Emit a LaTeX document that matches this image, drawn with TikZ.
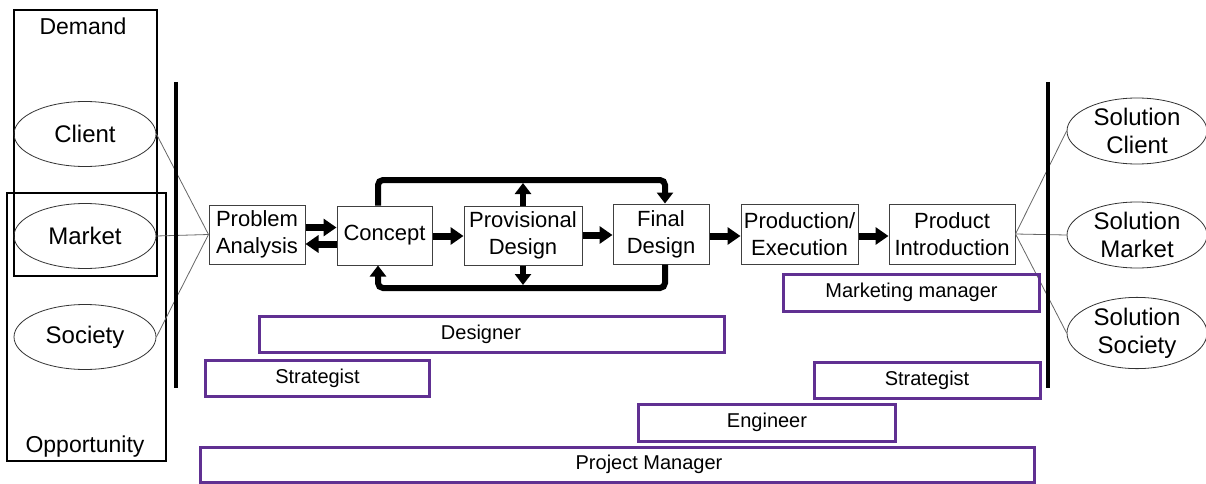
\documentclass[tikz,border=0pt]{standalone}
\usepackage{fontspec}
\setmainfont{Liberation Sans}
\usetikzlibrary{arrows.meta,shapes.geometric}
\definecolor{rolepurple}{RGB}{96,48,146}
\begin{document}
\begin{tikzpicture}[x=1pt,y=-1pt,
  proc/.style={draw=black!75, line width=1pt, inner sep=0pt, align=center,
    font=\fontsize{22}{27}\selectfont},
  role/.style={draw=rolepurple, line width=3pt, inner sep=0pt,
    font=\fontsize{20}{24}\selectfont},
  rolelabel/.style={inner sep=0pt, font=\fontsize{20}{24}\selectfont},
  src/.style={ellipse, draw=black!80, line width=0.8pt, inner sep=0pt,
    minimum width=142pt, minimum height=65pt, align=center,
    font=\fontsize{24}{28}\selectfont},
  group/.style={draw, line width=2pt, inner sep=0pt},
  grouplabel/.style={inner sep=0pt, font=\fontsize{23}{27}\selectfont},
  link/.style={draw=black!60, line width=0.8pt},
  bar/.style={line width=3.5pt},
  flow/.style={line width=7pt, -{Triangle[length=13pt,width=17pt]}},
  loopline/.style={line width=6pt, rounded corners=5pt,
    -{Triangle[length=11pt,width=16pt]}}]
\useasboundingbox (0,0) rectangle (1206,484);

% demand / opportunity groups
\node[group, minimum width=159pt, minimum height=268pt] (oppbox) at (86.5,327) {};
\node[group, minimum width=143pt, minimum height=266pt] (demandbox) at (85.5,143) {};
\node[grouplabel] (demand) at (83,26) {Demand};
\node[grouplabel] (opp) at (85,447) {Opportunity};

% sources
\node[src] (eC) at (85,134) {Client};
\node[src] (eM) at (85,236) {Market};
\node[src] (eS) at (85,337) {Society};

% solutions
\node[src, minimum width=140pt, minimum height=66pt] (rC) at (1137,131) {Solution\\Client};
\node[src, minimum width=140pt, minimum height=66pt] (rM) at (1137,235) {Solution\\Market};
\node[src, minimum width=140pt, minimum height=66pt] (rS) at (1137,333) {Solution\\Society};

% process steps
\node[proc, minimum width=96pt, minimum height=59pt] (pa) at (257,234.5) {Problem\\Analysis};
\node[proc, minimum width=95pt, minimum height=59pt] (co) at (384.5,235.5) {Concept};
\node[proc, minimum width=118pt, minimum height=59pt] (pd) at (523,235.5) {Provisional\\Design};
\node[proc, minimum width=96pt, minimum height=60pt] (fd) at (661,234) {Final\\Design};
\node[proc, minimum width=117pt, minimum height=60pt] (pe) at (799.5,234) {Production/\\Execution};
\node[proc, minimum width=126pt, minimum height=60pt] (pi) at (952,234) {Product\\Introduction};

% thin links
\draw[link] (eC.east) -- (pa.west);
\draw[link] (eM.east) -- (pa.west);
\draw[link] (eS.east) -- (pa.west);
\draw[link] (pi.east) -- (rC.west);
\draw[link] (pi.east) -- (rM.west);
\draw[link] (pi.east) -- (rS.west);

% boundary bars
\coordinate (lbt) at (176,82);
\coordinate (lbb) at (176,388);
\coordinate (rbt) at (1048,82);
\coordinate (rbb) at (1048,388);
\draw[bar] (lbt) -- (lbb);
\draw[bar] (rbt) -- (rbb);

% main flow
\draw[flow] (pa.east |- 0,227.5) -- (co.west |- 0,227.5);
\draw[flow] (co.west |- 0,244) -- (pa.east |- 0,244);
\draw[flow] (co.east |- 0,236) -- (pd.west |- 0,236);
\draw[flow] (pd.east |- 0,235) -- (fd.west |- 0,235);
\draw[flow] (fd.east |- 0,236) -- (pe.west |- 0,236);
\draw[flow] (pe.east |- 0,236) -- (pi.west |- 0,236);

% iteration loops
\coordinate (tl) at (378,180);
\coordinate (tr) at (665,180);
\coordinate (bl) at (378,288);
\coordinate (br) at (665,288);
\draw[loopline] (co.north -| tl) -- (tl) -- (tr) -- (fd.north -| tr);
\draw[loopline] (fd.south -| br) -- (br) -- (bl) -- (co.south -| bl);
\draw[loopline] (pd.north) -- (pd.north |- 0,183);
\draw[loopline] (pd.south) -- (pd.south |- 0,285);

% roles
\node[role, minimum width=256pt, minimum height=37pt] (mm) at (911.5,292.5) {Marketing manager};
\node[role, minimum width=465pt, minimum height=36pt] (de) at (492,334) {};
\node[rolelabel] (delabel) at (481,334) {Designer};
\node[role, minimum width=224pt, minimum height=36pt] (stl) at (317.5,378) {Strategist};
\node[role, minimum width=226pt, minimum height=36pt] (str) at (927,380) {Strategist};
\node[role, minimum width=257pt, minimum height=37pt] (en) at (767,422.5) {Engineer};
\node[role, minimum width=834pt, minimum height=35pt] (pm) at (617.5,464.5) {};
\node[rolelabel] (pmlabel) at (649,464.5) {Project Manager};
\end{tikzpicture}
\end{document}
